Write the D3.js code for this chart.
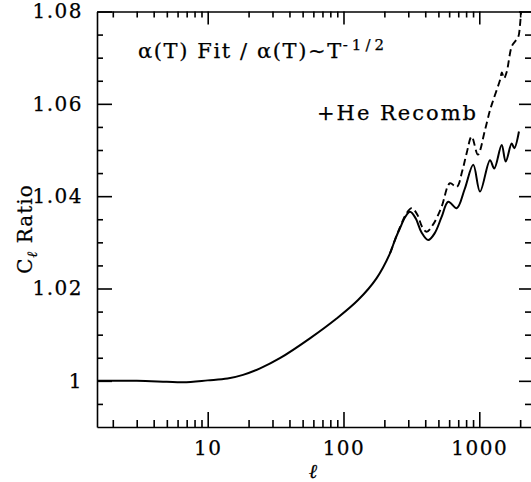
<!DOCTYPE html>
<html>
<head>
<meta charset="utf-8">
<script src="https://cdn.jsdelivr.net/npm/d3@7"></script>
<style>
  body { margin: 0; background: #fff; }
  svg { display: block; }
</style>
</head>
<body>
<div id="chart"></div>
<script>
// multipole l vs C_l ratio
var ellSolid = [1.53, 3, 5, 6.6, 10, 14, 18.2, 24.3, 34, 56.6, 89, 128, 175, 220, 239, 260, 285, 309, 340, 375, 421, 470, 528, 591, 682, 780, 903, 1012, 1199, 1289, 1462, 1565, 1732, 1811, 1960];
var ratioSolid = [1.0000, 1.0000, 0.9998, 0.9997, 1.0001, 1.0005, 1.0013, 1.0027, 1.0049, 1.0092, 1.0135, 1.0175, 1.0222, 1.0276, 1.0305, 1.0330, 1.0355, 1.0366, 1.0352, 1.0322, 1.0305, 1.0320, 1.0355, 1.0388, 1.0374, 1.0415, 1.0468, 1.0410, 1.0478, 1.0460, 1.0511, 1.0475, 1.0514, 1.0504, 1.0540];

// +He recombination (dashed)
var ellDashed = [220, 260, 290, 318, 350, 380, 410, 460, 528, 608, 682, 750, 807, 879, 977, 1101, 1199, 1267, 1420, 1469, 1520, 1592, 1732, 1834, 1937, 1995, 2030];
var ratioDashed = [1.0276, 1.0332, 1.0362, 1.0374, 1.0360, 1.0333, 1.0323, 1.0340, 1.0377, 1.0428, 1.0420, 1.0455, 1.0493, 1.0529, 1.0490, 1.0543, 1.0586, 1.0608, 1.0651, 1.0668, 1.0655, 1.0669, 1.0724, 1.0735, 1.0745, 1.0771, 1.0800];

var xMajor = [10, 100, 1000];
var xMinor = [2, 3, 4, 5, 6, 7, 8, 9, 20, 30, 40, 50, 60, 70, 80, 90, 200, 300, 400, 500, 600, 700, 800, 900, 2000];
var yMajor = [1.00, 1.02, 1.04, 1.06, 1.08];
var yMinor = [0.995, 1.005, 1.01, 1.015, 1.025, 1.03, 1.035, 1.045, 1.05, 1.055, 1.065, 1.07, 1.075];
var yLabels = {1.00: "1", 1.02: "1.02", 1.04: "1.04", 1.06: "1.06", 1.08: "1.08"};

var W = 531, H = 482;
var mLeft = 97, mRight = 532, mTop = 11.5, mBottom = 427;
var font = "'DejaVu Serif', serif";
var ink = 0.25; // scanned text looks heavier

var x = d3.scaleLog().domain([1.53, 2445]).range([mLeft, mRight]);
var y = d3.scaleLinear().domain([0.99, 1.08]).range([mBottom, mTop]);

var svg = d3.select("#chart").append("svg")
  .attr("width", W).attr("height", H);

svg.append("clipPath").attr("id", "clip")
  .append("rect").attr("x", mLeft).attr("y", mTop)
  .attr("width", mRight - mLeft).attr("height", mBottom - mTop);

function styleAxis(g) {
  g.attr("font-family", font).attr("font-size", 20);
  g.selectAll("path, line").attr("stroke", "#000").attr("stroke-width", 1.6);
  g.selectAll("text").attr("fill", "#000").attr("letter-spacing", 1.5)
    .attr("stroke", "#000").attr("stroke-width", ink);
}

// bottom
svg.append("g").attr("transform", "translate(0," + mBottom + ")")
  .call(d3.axisBottom(x).tickValues(xMinor).tickSize(-7).tickSizeOuter(0).tickFormat(""))
  .call(styleAxis).select(".domain").remove();
svg.append("g").attr("transform", "translate(0," + mBottom + ")")
  .call(d3.axisBottom(x).tickValues(xMajor).tickSize(-15).tickSizeOuter(0).tickPadding(14)
    .tickFormat(d3.format("d")))
  .call(styleAxis);

// top
svg.append("g").attr("transform", "translate(0," + mTop + ")")
  .call(d3.axisTop(x).tickValues(xMinor).tickSize(-6).tickSizeOuter(0).tickFormat(""))
  .call(styleAxis).select(".domain").remove();
svg.append("g").attr("transform", "translate(0," + mTop + ")")
  .call(d3.axisTop(x).tickValues(xMajor).tickSize(-13).tickSizeOuter(0).tickFormat(""))
  .call(styleAxis);

// left
svg.append("g").attr("transform", "translate(" + mLeft + ",0)")
  .call(d3.axisLeft(y).tickValues(yMinor).tickSize(-6).tickSizeOuter(0).tickFormat(""))
  .call(styleAxis).select(".domain").remove();
svg.append("g").attr("transform", "translate(" + mLeft + ",0)")
  .call(d3.axisLeft(y).tickValues(yMajor).tickSize(-15).tickSizeOuter(0).tickPadding(14)
    .tickFormat(function(d) { return yLabels[d]; }))
  .call(styleAxis);

// right
svg.append("g").attr("transform", "translate(" + mRight + ",0)")
  .call(d3.axisRight(y).tickValues(yMinor).tickSize(-7).tickSizeOuter(0).tickFormat(""))
  .call(styleAxis).select(".domain").remove();
svg.append("g").attr("transform", "translate(" + mRight + ",0)")
  .call(d3.axisRight(y).tickValues(yMajor).tickSize(-13).tickSizeOuter(0).tickFormat(""))
  .call(styleAxis);

var line = d3.line()
  .x(function(d) { return x(d[0]); })
  .y(function(d) { return y(d[1]); })
  .curve(d3.curveCatmullRom.alpha(0.5));

var plot = svg.append("g").attr("clip-path", "url(#clip)");

plot.append("path")
  .datum(d3.zip(ellSolid, ratioSolid))
  .attr("d", line)
  .attr("fill", "none").attr("stroke", "#000").attr("stroke-width", 2);

plot.append("path")
  .datum(d3.zip(ellDashed, ratioDashed))
  .attr("d", line)
  .attr("fill", "none").attr("stroke", "#000").attr("stroke-width", 1.9)
  .attr("stroke-dasharray", "7,4");

// texts
var title = svg.append("text")
  .attr("x", 138).attr("y", 58)
  .attr("font-family", font).attr("font-size", 21).attr("letter-spacing", 1.6)
  .attr("stroke", "#000").attr("stroke-width", ink);
title.append("tspan").text("\u03b1(T) Fit / \u03b1(T)~T");
title.append("tspan").attr("dy", -8).attr("font-size", 15).attr("letter-spacing", 4).text("-1/2");

svg.append("text")
  .attr("x", 317).attr("y", 120)
  .attr("font-family", font).attr("font-size", 21).attr("letter-spacing", 2)
  .attr("stroke", "#000").attr("stroke-width", ink)
  .text("+He Recomb");

var ylab = svg.append("text")
  .attr("transform", "translate(32,229) rotate(-90)")
  .attr("text-anchor", "middle")
  .attr("font-family", font).attr("font-size", 20).attr("letter-spacing", 1)
  .attr("stroke", "#000").attr("stroke-width", ink);
ylab.append("tspan").text("C");
ylab.append("tspan").attr("dy", 5).attr("font-size", 14).attr("font-style", "italic").text("\u2113");
ylab.append("tspan").attr("dy", -5).text(" Ratio");

svg.append("text")
  .attr("x", 313).attr("y", 478)
  .attr("text-anchor", "middle")
  .attr("font-family", font).attr("font-size", 20).attr("font-style", "italic")
  .attr("stroke", "#000").attr("stroke-width", ink)
  .text("\u2113");
</script>
</body>
</html>
